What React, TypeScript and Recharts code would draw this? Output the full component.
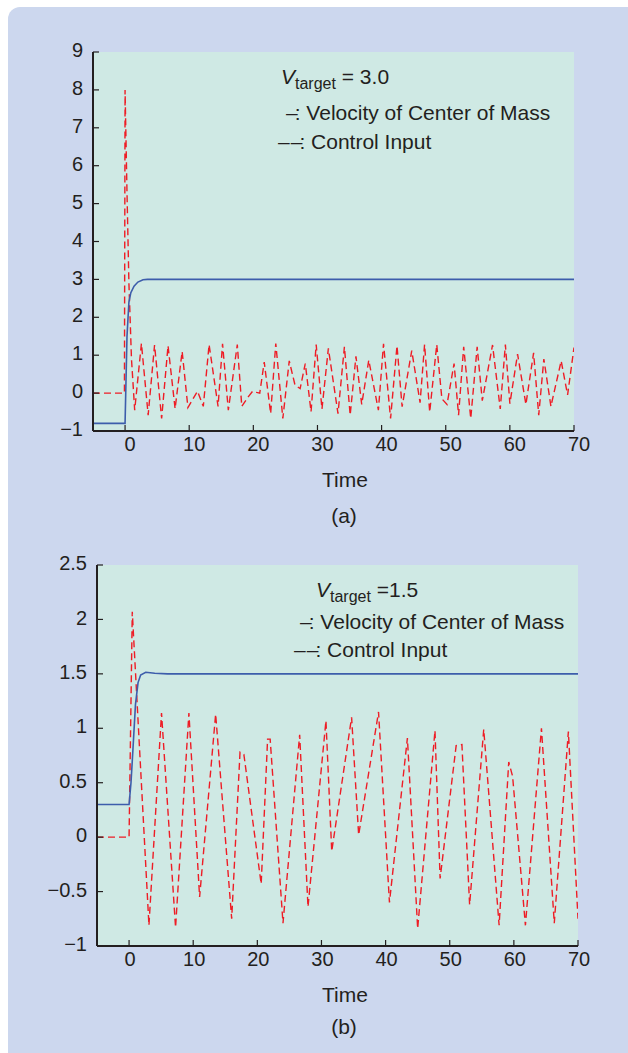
import React from 'react';
import { LineChart, Line, XAxis, YAxis, CartesianGrid } from 'recharts';

// ---------- data ----------
const timeTicks = [0, 10, 20, 30, 40, 50, 60, 70];
const topYTicks = [-1, 0, 1, 2, 3, 4, 5, 6, 7, 8, 9];
const bottomYTicks = [-1, -0.5, 0, 0.5, 1, 1.5, 2, 2.5];

// (a) V_target = 3.0 — velocity of centre of mass [time, value]
const topVelocity: [number, number][] = [
  [-5, -0.8], [0, -0.8], [0.3, 1.5], [0.6, 2.4], [0.9, 2.65], [1.4, 2.82],
  [2.0, 2.93], [2.8, 2.99], [3.5, 3.0], [70, 3.0],
];

// (a) control input [time, value]
const topControl: [number, number][] = [
  [-5, 0], [-0.1, 0], [0, 8.0], [0.3, 5.3], [0.6, 2.9], [1.0, 0.9], [1.5, -0.45],
  [2.55, 1.31], [3.6, -0.58], [4.6, 1.27], [5.7, -0.67], [6.7, 1.25], [7.8, -0.41],
  [8.9, 1.1], [9.8, -0.38], [10.6, -0.15], [11.3, 0.05], [12.2, -0.35], [13.1, 1.28],
  [14.5, -0.35], [15.2, 1.3], [16.1, -0.45], [17.5, 1.28], [18.2, -0.35], [19.2, -0.1],
  [19.9, 0.05], [20.5, 0.02], [21.0, 0.0], [21.7, 0.82], [22.7, -0.54], [23.5, 1.31],
  [24.6, -0.67], [25.6, 0.85], [26.5, 0.21], [27.3, 0.12], [28.1, 0.78], [29.0, -0.49],
  [29.8, 1.28], [30.7, -0.42], [31.7, 1.18], [33.2, -0.54], [34.2, 1.22], [35.1, -0.58],
  [36.0, 0.97], [36.9, -0.3], [38.0, 0.87], [39.5, -0.45], [40.3, 1.3], [41.4, -0.67],
  [42.4, 1.25], [43.2, -0.36], [44.7, 1.12], [46.0, -0.25], [46.7, 1.28], [47.5, -0.5],
  [48.6, 1.28], [49.4, -0.15], [50.2, -0.3], [51.3, 0.78], [52.0, -0.58], [52.8, 1.22],
  [53.9, -0.67], [54.9, 1.22], [55.7, -0.2], [57.3, 1.27], [58.5, -0.42], [59.3, 1.28],
  [60.0, -0.28], [61.2, 1.03], [62.5, -0.3], [63.7, 1.06], [64.5, -0.58], [65.3, 0.9],
  [66.4, -0.35], [68.0, 0.85], [69.0, -0.05], [70, 1.2],
];

// (b) V_target = 1.5 — velocity of centre of mass
const bottomVelocity: [number, number][] = [
  [-5, 0.3], [0, 0.3], [0.3, 0.5], [0.6, 0.8], [1.0, 1.22], [1.4, 1.42], [1.8, 1.49],
  [2.6, 1.515], [4, 1.505], [6, 1.5], [70, 1.5],
];

// (b) control input
const bottomControl: [number, number][] = [
  [-5, 0], [0, 0], [0.5, 2.07], [3.1, -0.81], [5.06, 1.14], [7.25, -0.83], [9.33, 1.14],
  [11.0, -0.55], [13.5, 1.13], [16.0, -0.75], [17.3, 0.78], [17.9, 0.76], [20.6, -0.43],
  [21.6, 0.9], [22.0, 0.9], [24.0, -0.79], [26.6, 0.94], [27.9, -0.64], [30.7, 1.07],
  [31.6, -0.13], [34.7, 1.1], [35.8, 0.02], [38.9, 1.15], [40.6, -0.6], [43.4, 0.91],
  [45.0, -0.84], [47.7, 0.98], [48.5, -0.38], [51.0, 0.84], [51.9, 0.85], [53.1, -0.62],
  [55.3, 0.99], [57.7, -0.81], [59.2, 0.69], [59.8, 0.56], [61.8, -0.81], [64.3, 1.0],
  [66.3, -0.79], [68.5, 0.97], [70, -0.75],
];

// ---------- styling ----------
const FONT = '"Liberation Sans", Arial, Helvetica, sans-serif';
const INK = '#231f20';
const PANEL = '#ccd7ee';
const PLOT = '#cfe9e4';
const BLUE = '#3d5dab';
const RED = '#ee1c25';

const toPts = (arr: [number, number][]) => arr.map(([t, v]) => ({ t, v }));
const fmt = (v: number) => String(v).replace('-', '\u2212');

type PlotProps = {
  top: number;
  height: number;
  plot: { left: number; right: number; top: number; bottom: number };
  yDomain: [number, number];
  yTicks: number[];
  velocity: [number, number][];
  control: [number, number][];
  xLabelDx: number;
};

function Plot({ top, height, plot, yDomain, yTicks, velocity, control, xLabelDx }: PlotProps) {
  const W = 628;
  const yAxisW = 40;
  const xAxisH = 30;
  const margin = {
    top: plot.top,
    right: W - plot.right,
    bottom: height - plot.bottom - xAxisH,
    left: plot.left - yAxisW,
  };
  const tickStyle = { fontSize: 20, fill: INK, fontFamily: FONT };
  const axisLine = { stroke: INK, strokeWidth: 2 };
  const tickLine = { stroke: INK, strokeWidth: 1.2 };
  return (
    <div style={{ position: 'absolute', left: 0, top, width: W, height }}>
      <LineChart width={W} height={height} margin={margin}>
        <CartesianGrid fill={PLOT} horizontal={false} vertical={false} xAxisId="b" yAxisId="l" />
        <XAxis
          xAxisId="b"
          dataKey="t"
          type="number"
          domain={[-5, 70]}
          ticks={timeTicks}
          allowDataOverflow
          height={xAxisH}
          tickSize={-6}
          tickMargin={12}
          tick={{ ...tickStyle, dx: xLabelDx }}
          axisLine={axisLine}
          tickLine={tickLine}
          interval={0}
        />
        <XAxis
          xAxisId="t"
          orientation="top"
          dataKey="t"
          type="number"
          domain={[-5, 70]}
          ticks={timeTicks}
          allowDataOverflow
          height={0}
          tickSize={-6}
          tickFormatter={() => ''}
          axisLine={axisLine}
          tickLine={tickLine}
          interval={0}
        />
        <YAxis
          yAxisId="l"
          type="number"
          domain={yDomain}
          ticks={yTicks}
          allowDataOverflow
          width={yAxisW}
          tickSize={-6}
          tickMargin={16}
          tick={{ ...tickStyle, dy: -2 }}
          tickFormatter={fmt}
          axisLine={axisLine}
          tickLine={tickLine}
          interval={0}
        />
        <YAxis
          yAxisId="r"
          orientation="right"
          type="number"
          domain={yDomain}
          ticks={yTicks}
          allowDataOverflow
          width={0}
          tickSize={-6}
          tickFormatter={() => ''}
          axisLine={axisLine}
          tickLine={tickLine}
          interval={0}
        />
        <Line
          xAxisId="b"
          yAxisId="l"
          data={toPts(control)}
          dataKey="v"
          type="linear"
          stroke={RED}
          strokeWidth={1.4}
          strokeDasharray="7 4"
          dot={false}
          activeDot={false}
          isAnimationActive={false}
        />
        <Line
          xAxisId="b"
          yAxisId="l"
          data={toPts(velocity)}
          dataKey="v"
          type="linear"
          stroke={BLUE}
          strokeWidth={1.6}
          dot={false}
          activeDot={false}
          isAnimationActive={false}
        />
      </LineChart>
    </div>
  );
}

const textBase: React.CSSProperties = {
  position: 'absolute',
  fontFamily: FONT,
  fontSize: 21,
  color: INK,
  lineHeight: '24px',
  whiteSpace: 'nowrap',
};

function Label({ x, y, children, center }: { x: number; y: number; children: React.ReactNode; center?: boolean }) {
  return (
    <div
      style={{
        ...textBase,
        left: center ? x - 100 : x,
        width: center ? 200 : undefined,
        textAlign: center ? 'center' : 'left',
        top: y - 12,
      }}
    >
      {children}
    </div>
  );
}

function VTarget({ value }: { value: string }) {
  return (
    <>
      <span style={{ fontStyle: 'italic' }}>V</span>
      <span style={{ fontSize: 16, position: 'relative', top: 5 }}>target</span>
      <span>{value}</span>
    </>
  );
}

export default function App() {
  return (
    <div style={{ position: 'absolute', left: 0, top: 0, width: 628, height: 1053, background: '#fff', overflow: 'hidden' }}>
      <div
        style={{
          position: 'absolute',
          left: 8,
          top: 7,
          right: 0,
          bottom: 0,
          background: PANEL,
          borderTopLeftRadius: 12,
        }}
      />
      <Plot
        top={0}
        height={530}
        plot={{ left: 93, right: 574, top: 52, bottom: 431 }}
        yDomain={[-1, 9]}
        yTicks={topYTicks}
        velocity={topVelocity}
        control={topControl}
        xLabelDx={5}
      />
      <Plot
        top={520}
        height={520}
        plot={{ left: 97, right: 578, top: 45, bottom: 426 }}
        yDomain={[-1, 2.5]}
        yTicks={bottomYTicks}
        velocity={bottomVelocity}
        control={bottomControl}
        xLabelDx={1}
      />
      {/* annotations (a) */}
      <Label x={281} y={77}><VTarget value=" = 3.0" /></Label>
      <Label x={286} y={113}>
        <span style={{ letterSpacing: -3 }}>–</span>: Velocity of Center of Mass
      </Label>
      <Label x={278} y={142}>
        <span style={{ letterSpacing: 1 }}>–</span><span style={{ letterSpacing: -3 }}>–</span>: Control Input
      </Label>
      <Label x={345} y={480} center>Time</Label>
      <Label x={344} y={516} center>(a)</Label>
      {/* annotations (b) */}
      <Label x={316} y={590}><VTarget value=" =1.5" /></Label>
      <Label x={300} y={622}>
        <span style={{ letterSpacing: -3 }}>–</span>: Velocity of Center of Mass
      </Label>
      <Label x={294} y={650}>
        <span style={{ letterSpacing: 1 }}>–</span><span style={{ letterSpacing: -3 }}>–</span>: Control Input
      </Label>
      <Label x={345} y={995} center>Time</Label>
      <Label x={344} y={1027} center>(b)</Label>
    </div>
  );
}
